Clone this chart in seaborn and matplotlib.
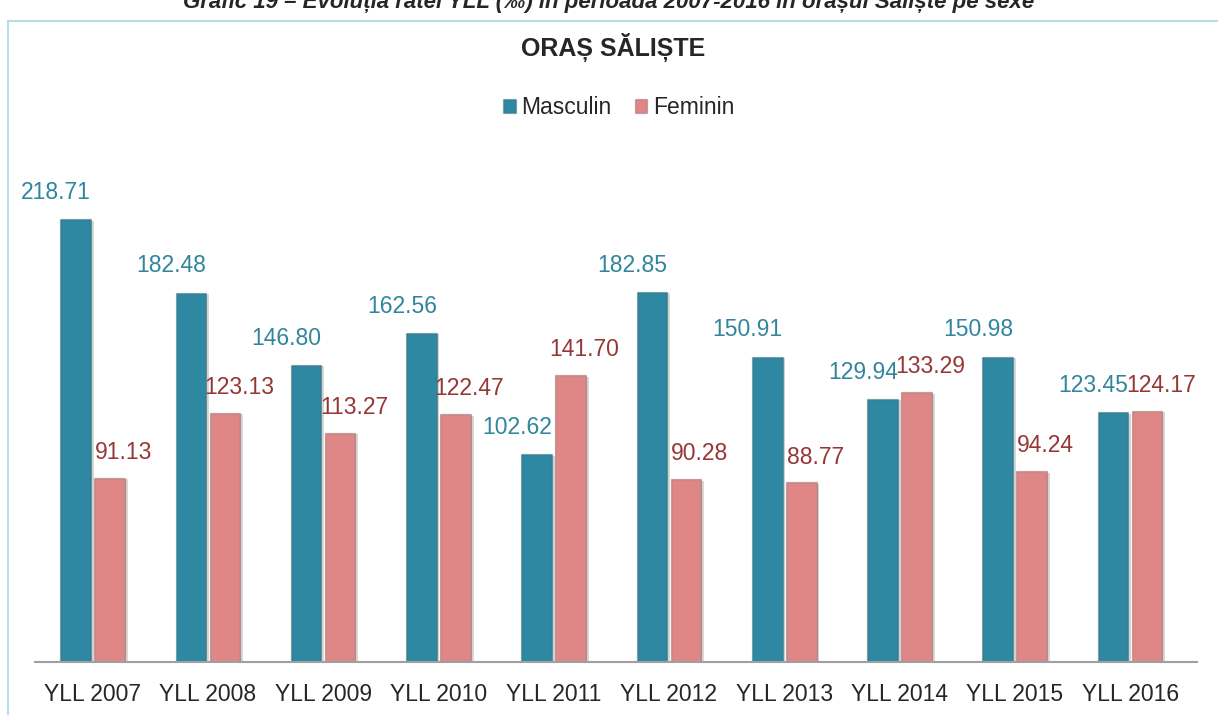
import pandas as pd
import matplotlib.pyplot as plt
import matplotlib.patches as mpatches
import matplotlib.patheffects as pe
import seaborn as sns

years = ["YLL 2007", "YLL 2008", "YLL 2009", "YLL 2010", "YLL 2011",
         "YLL 2012", "YLL 2013", "YLL 2014", "YLL 2015", "YLL 2016"]
masculin = [218.71, 182.48, 146.80, 162.56, 102.62, 182.85, 150.91, 129.94, 150.98, 123.45]
feminin = [91.13, 123.13, 113.27, 122.47, 141.70, 90.28, 88.77, 133.29, 94.24, 124.17]
series = ["Masculin", "Feminin"]

bar_colors = {"Masculin": "#2E88A2", "Feminin": "#DE8786"}
label_colors = {"Masculin": "#31859C", "Feminin": "#953735"}
# label offsets (points) as placed in the original chart
label_dx = {"Masculin": -14, "Feminin": 10}
label_dy = {"Masculin": 11, "Feminin": 10}

df = pd.DataFrame({
    "an": years * 2,
    "sex": ["Masculin"] * len(years) + ["Feminin"] * len(years),
    "val": masculin + feminin,
})

sns.set_style("white")
plt.rcParams["font.family"] = ["Liberation Sans", "DejaVu Sans"]

fig = plt.figure(figsize=(12.18, 7.15), dpi=100)
ax = fig.add_axes([0.0287, 0.0741, 0.954, 0.716])

sns.barplot(data=df, x="an", y="val", hue="sex", hue_order=series,
            palette=bar_colors, saturation=1, width=0.59, gap=0.1, ax=ax,
            edgecolor="#00000030", linewidth=1)

shadow = [pe.SimplePatchShadow(offset=(2, -1), shadow_rgbFace="#000000", alpha=0.15), pe.Normal()]
for cont, s in zip(ax.containers, series):
    for bar, v in zip(cont, df.loc[df["sex"] == s, "val"]):
        bar.set_path_effects(shadow)
        ax.annotate(f"{v:.2f}", (bar.get_x() + bar.get_width() / 2, bar.get_height()),
                    xytext=(label_dx[s], label_dy[s]), textcoords="offset points",
                    ha="center", va="bottom", fontsize=16.5, color=label_colors[s])

ax.set_ylim(0, 253)
ax.set_xlim(-0.5, 9.58)
ax.set_xlabel("")
ax.set_ylabel("")
ax.set_yticks([])
ax.tick_params(axis="x", labelsize=16.5, length=0, pad=15)
for side in ["top", "right", "left"]:
    ax.spines[side].set_visible(False)
ax.spines["bottom"].set_color("#A0A0A0")
ax.spines["bottom"].set_linewidth(1.5)

ax.legend(loc="center", bbox_to_anchor=(0.508, 0.850), bbox_transform=fig.transFigure,
          ncol=2, frameon=False, fontsize=16.5, handlelength=0.55, handleheight=0.55,
          handletextpad=0.25, columnspacing=1.0)

fig.text(0.503, 0.934, "ORAȘ SĂLIȘTE", ha="center", va="center",
         fontsize=18, fontweight="bold")
fig.text(0.5, 0.996, "Grafic 19 – Evoluția ratei YLL (‰) în perioada 2007-2016 în orașul Săliște pe sexe",
         ha="center", va="center", fontsize=16, fontweight="bold", style="italic")

fig.patches.append(mpatches.Rectangle((0.0066, -0.01), 1.0, 0.98, transform=fig.transFigure,
                                      fill=False, edgecolor="#B7DDE8", linewidth=1.5))

fig.savefig("out.png", dpi=100)
